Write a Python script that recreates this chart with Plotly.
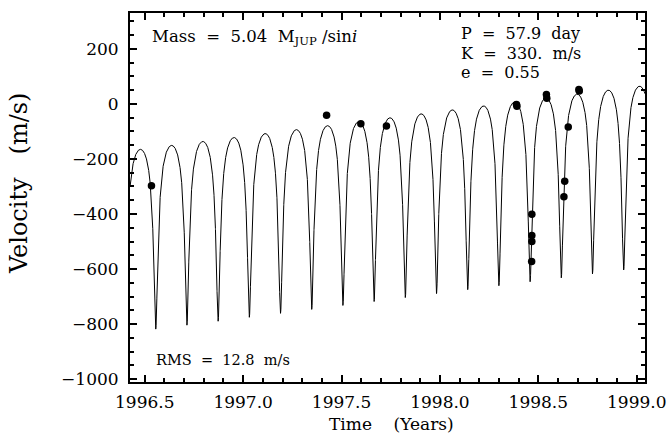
import numpy as np
import plotly.graph_objects as go

obs_time = [1996.534, 1997.424, 1997.598, 1997.728, 1998.389, 1998.391,
            1998.467, 1998.467, 1998.467, 1998.466, 1998.541, 1998.543,
            1998.630, 1998.634, 1998.652, 1998.706, 1998.708]
obs_vel = [-297, -41, -72, -80, -2, -9,
           -401, -478, -500, -572, 34, 20,
           -337, -281, -84, 52, 47]

# ---- orbital fit parameters (P, K, e as printed on the chart; the rest) ----
period_days = 57.9
semi_amp = 330.0
ecc = 0.55
omega_deg = 180.0
t_peri = 1996.5558          # epoch of a velocity minimum (periastron)
gamma_at_peri = -306.5      # systemic velocity at t_peri, m/s
trend = 90.4                # linear trend, m/s per year

x_range = [1996.425, 1999.042]
y_range = [-1010, 330]

# ---- Keplerian model curve ----
P_yr = period_days / 365.25
t = np.linspace(x_range[0], x_range[1], 20001)
M = 2 * np.pi * (t - t_peri) / P_yr
E = M + ecc * np.sin(M)
for _ in range(40):
    E = E - (E - ecc * np.sin(E) - M) / (1 - ecc * np.cos(E))
nu = 2 * np.arctan2(np.sqrt(1 + ecc) * np.sin(E / 2), np.sqrt(1 - ecc) * np.cos(E / 2))
w = np.radians(omega_deg)
v_model = semi_amp * (np.cos(nu + w) + ecc * np.cos(w)) + gamma_at_peri + trend * (t - t_peri)

FONT = "DejaVu Serif"
W, H = 668, 434
PL, PR, PT, PB = 129.5, 645.0, 13.0, 382.0   # plot box in pixels
PW, PH = PR - PL, PB - PT
ML, MT, MR, MB = PL, PT, W - PR, H - PB

def px(x):
    return (x - PL) / PW

def py(y):
    return (PB - y) / PH

fig = go.Figure()
fig.add_trace(go.Scatter(x=t, y=v_model, mode="lines",
                         line=dict(color="black", width=1), hoverinfo="skip"))
fig.add_trace(go.Scatter(x=obs_time, y=obs_vel, mode="markers",
                         marker=dict(color="black", size=7.5)))

axis_common = dict(
    showline=True, linecolor="black", linewidth=2, mirror="allticks",
    ticks="inside", ticklen=7, tickwidth=1.5, tickcolor="black",
    showgrid=False, zeroline=False, automargin=False,
    tickfont=dict(family=FONT, size=17, color="black"),
)

fig.update_xaxes(range=x_range, tick0=1996.5, dtick=0.5, tickformat=".1f",
                 ticklabelstandoff=4,
                 minor=dict(dtick=0.1, ticks="inside", ticklen=4, tickwidth=1.5,
                            tickcolor="black", showgrid=False),
                 **axis_common)
fig.update_yaxes(range=y_range, tick0=0, dtick=200, ticklabelstandoff=6,
                 minor=dict(dtick=50, ticks="inside", ticklen=4, tickwidth=1.5,
                            tickcolor="black", showgrid=False),
                 **axis_common)

nb = "\u00a0"
ann = []
ann.append(dict(text=f"Mass{nb}{nb}={nb}{nb}5.04{nb}{nb}M<sub>JUP</sub>{nb}/sin<i>i</i>",
                x=px(150), y=py(37.2), xanchor="left", yanchor="middle",
                font=dict(family=FONT, size=16.5, color="black")))
ann.append(dict(text=f"P{nb}{nb}={nb}{nb}57.9{nb}{nb}day",
                x=px(459), y=py(33.3), xanchor="left", yanchor="middle",
                font=dict(family=FONT, size=16, color="black")))
ann.append(dict(text=f"K{nb}{nb}={nb}{nb}330.{nb}{nb}m/s",
                x=px(459), y=py(53.6), xanchor="left", yanchor="middle",
                font=dict(family=FONT, size=16, color="black")))
ann.append(dict(text=f"e{nb}{nb}={nb}{nb}0.55",
                x=px(459), y=py(72.5), xanchor="left", yanchor="middle",
                font=dict(family=FONT, size=16, color="black")))
ann.append(dict(text=f"RMS{nb}{nb}={nb}{nb}12.8{nb}{nb}m/s",
                x=px(154), y=py(360), xanchor="left", yanchor="middle",
                font=dict(family=FONT, size=14.5, color="black")))
ann.append(dict(text=f"Velocity{nb}{nb}{nb}(m/s)", textangle=-90,
                x=px(18), y=py(183.5), xanchor="center", yanchor="middle",
                font=dict(family=FONT, size=24, color="black")))
ann.append(dict(text=f"Time{nb}{nb}{nb}{nb}(Years)",
                x=px(391), y=py(424), xanchor="center", yanchor="middle",
                font=dict(family=FONT, size=17, color="black")))
for a in ann:
    a.update(xref="paper", yref="paper", showarrow=False)

fig.update_layout(
    width=W, height=H, autosize=False,
    margin=dict(l=ML, r=MR, t=MT, b=MB, pad=0, autoexpand=False),
    paper_bgcolor="white", plot_bgcolor="white",
    showlegend=False, annotations=ann,
    font=dict(family=FONT, color="black"),
)

fig.write_html(
    "out.html",
    config={"displayModeBar": False, "responsive": False},
    post_script="document.body.style.margin='0';document.body.style.overflow='hidden';",
)
